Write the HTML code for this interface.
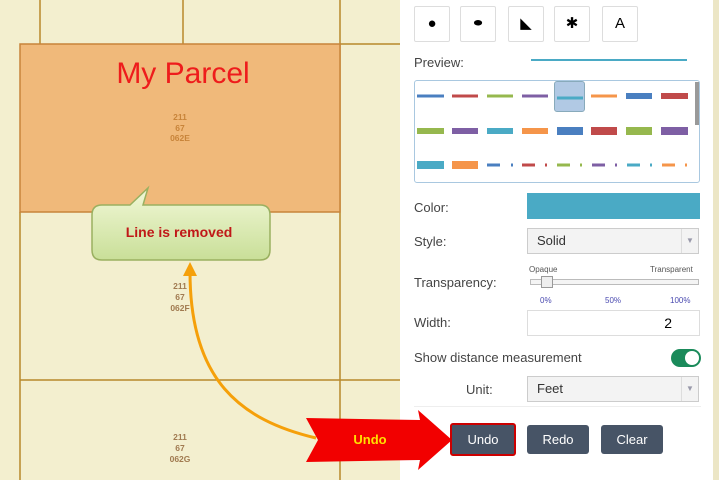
<!DOCTYPE html>
<html><head><style>
body{margin:0;width:719px;height:480px;overflow:hidden;font-family:"Liberation Sans",sans-serif;position:relative;background:#f3efcf}
.a{position:absolute}
.ib{position:absolute;top:6px;width:34px;height:34px;border:1px solid #ddd;border-radius:2px;background:#fff;text-align:center;line-height:34px;font-size:15px}
.lb{position:absolute;left:414px;font-size:13px;color:#444}
.sel{position:absolute;left:527px;width:172px;border:1px solid #ccc;background:#f3f3f3;font-size:13px;color:#333;box-sizing:border-box}
.btn{position:absolute;top:425px;height:29px;background:#475466;color:#fff;border-radius:3px;font-size:13px;text-align:center;line-height:29px}
</style></head><body>
<svg class="a" style="left:0;top:0" width="719" height="480">
<rect x="0" y="0" width="400" height="480" fill="#f3efcf"/>
<g stroke="#b8892a" stroke-width="1.5" fill="none">
<line x1="40" y1="0" x2="40" y2="44"/><line x1="183" y1="0" x2="183" y2="44"/>
<line x1="340" y1="0" x2="340" y2="480"/><line x1="340" y1="44" x2="400" y2="44"/>
<line x1="20" y1="212" x2="20" y2="480"/><line x1="20" y1="380" x2="400" y2="380"/>
</g>
<rect x="20" y="44" width="320" height="168" fill="#f0b97a" stroke="#c8843a" stroke-width="1.5"/>
<text x="183" y="83" font-size="30" fill="#ee1c1c" text-anchor="middle">My Parcel</text>
<g font-size="8.5" font-weight="bold" fill="#c8843a" text-anchor="middle"><text x="180" y="120">211</text><text x="180" y="131">67</text><text x="180" y="141">062E</text></g>
<g font-size="8.5" font-weight="bold" fill="#a07a50" text-anchor="middle"><text x="180" y="289">211</text><text x="180" y="300">67</text><text x="180" y="311">062F</text>
<text x="180" y="440">211</text><text x="180" y="451">67</text><text x="180" y="462">062G</text></g>
<path d="M316 438 C240 420 190 380 190 272" stroke="#f5a00a" stroke-width="3" fill="none"/>
<polygon points="190,262 183,276 197,276" fill="#f5a00a"/>
<defs><linearGradient id="g" x1="0" y1="0" x2="0" y2="1"><stop offset="0" stop-color="#f2f8d8"/><stop offset="1" stop-color="#c9df98"/></linearGradient></defs>
<path d="M102 205 L130 205 L148 188 L143 205 L260 205 Q270 205 270 215 L270 250 Q270 260 260 260 L102 260 Q92 260 92 250 L92 215 Q92 205 102 205Z" fill="url(#g)" stroke="#9ab060" stroke-width="1.5"/>
<text x="179" y="237" font-size="14" font-weight="bold" fill="#c01818" text-anchor="middle">Line is removed</text>
<rect x="400" y="0" width="313" height="480" fill="#fff"/>
<rect x="713" y="0" width="6" height="480" fill="#ece6c6"/>
<polygon points="306,418 420,420 418,410 452,440 418,470 420,460 306,462 318,440" fill="#f20000"/>
<text x="370" y="444" font-size="13" font-weight="bold" fill="#ffe000" text-anchor="middle">Undo</text>
</svg>
<div class="ib" style="left:414px">●</div>
<div class="ib" style="left:460px;font-size:10px">⬬</div>
<div class="ib" style="left:508px">◣</div>
<div class="ib" style="left:554px">✱</div>
<div class="ib" style="left:602px">A</div>
<div class="lb" style="top:55px">Preview:</div>
<div class="a" style="left:531px;top:59px;width:156px;height:2px;background:#4aaac5"></div>
<div class="a" style="left:414px;top:80px;width:286px;height:103px;border:1px solid #a9c8e0;border-radius:3px;box-sizing:border-box"></div>
<div class="a" style="left:695px;top:82px;width:4px;height:43px;background:#999"></div>
<div class="a" style="left:554px;top:81px;width:31px;height:31px;background:#b1c9e4;border:1px solid #8ab;border-radius:3px;box-sizing:border-box"></div>
<svg class="a" style="left:414px;top:80px" width="286" height="103">
<g stroke-width="3"><line x1="3" y1="16" x2="30" y2="16" stroke="#4a7fc0"/><line x1="38" y1="16" x2="64" y2="16" stroke="#c04a4a"/><line x1="73" y1="16" x2="99" y2="16" stroke="#96b84e"/><line x1="108" y1="16" x2="134" y2="16" stroke="#7e5fa4"/><line x1="143" y1="18" x2="169" y2="18" stroke="#4aaac5"/><line x1="177" y1="16" x2="203" y2="16" stroke="#f5954a"/></g>
<g stroke-width="6"><line x1="212" y1="16" x2="238" y2="16" stroke="#4a7fc0"/><line x1="247" y1="16" x2="274" y2="16" stroke="#c04a4a"/>
<line x1="3" y1="51" x2="30" y2="51" stroke="#96b84e"/><line x1="38" y1="51" x2="64" y2="51" stroke="#7e5fa4"/><line x1="73" y1="51" x2="99" y2="51" stroke="#4aaac5"/><line x1="108" y1="51" x2="134" y2="51" stroke="#f5954a"/></g>
<g stroke-width="8"><line x1="143" y1="51" x2="169" y2="51" stroke="#4a7fc0"/><line x1="177" y1="51" x2="203" y2="51" stroke="#c04a4a"/><line x1="212" y1="51" x2="238" y2="51" stroke="#96b84e"/><line x1="247" y1="51" x2="274" y2="51" stroke="#7e5fa4"/>
<line x1="3" y1="85" x2="30" y2="85" stroke="#4aaac5"/><line x1="38" y1="85" x2="64" y2="85" stroke="#f5954a"/></g>
<g stroke-width="3"><line x1="73" y1="85" x2="86" y2="85" stroke="#4a7fc0"/><line x1="108" y1="85" x2="121" y2="85" stroke="#c04a4a"/><line x1="143" y1="85" x2="156" y2="85" stroke="#96b84e"/><line x1="178" y1="85" x2="191" y2="85" stroke="#7e5fa4"/><line x1="213" y1="85" x2="226" y2="85" stroke="#4aaac5"/><line x1="248" y1="85" x2="261" y2="85" stroke="#f5954a"/>
<line x1="97" y1="85" x2="99" y2="85" stroke="#4a7fc0"/><line x1="131" y1="85" x2="133" y2="85" stroke="#c04a4a"/><line x1="166" y1="85" x2="168" y2="85" stroke="#96b84e"/><line x1="201" y1="85" x2="203" y2="85" stroke="#7e5fa4"/><line x1="236" y1="85" x2="238" y2="85" stroke="#4aaac5"/><line x1="271" y1="85" x2="273" y2="85" stroke="#f5954a"/></g>
</svg>
<div class="lb" style="top:200px">Color:</div>
<div class="a" style="left:527px;top:193px;width:173px;height:26px;background:#4aaac5"></div>
<div class="lb" style="top:234px">Style:</div>
<div class="sel" style="top:228px;height:26px;line-height:24px;padding-left:9px">Solid<span style="position:absolute;right:0;top:0;width:16px;height:24px;border-left:1px solid #ddd;font-size:8px;color:#99a;text-align:center">▼</span></div>
<div class="lb" style="top:275px">Transparency:</div>
<div class="a" style="left:529px;top:265px;font-size:8px;color:#555">Opaque</div>
<div class="a" style="left:650px;top:265px;font-size:8px;color:#555">Transparent</div>
<div class="a" style="left:530px;top:279px;width:167px;height:4px;border:1px solid #bbb;background:#f4f4f4"></div>
<div class="a" style="left:541px;top:276px;width:10px;height:10px;border:1px solid #999;background:#eee"></div>
<div class="a" style="left:540px;top:296px;font-size:8px;color:#4a4ab0">0%</div>
<div class="a" style="left:605px;top:296px;font-size:8px;color:#4a4ab0">50%</div>
<div class="a" style="left:670px;top:296px;font-size:8px;color:#4a4ab0">100%</div>
<div class="lb" style="top:315px">Width:</div>
<div class="a" style="left:527px;top:310px;width:173px;height:26px;border:1px solid #ddd;box-sizing:border-box;font-size:14px;text-align:right;padding-right:27px;line-height:24px">2</div>
<div class="lb" style="top:350px">Show distance measurement</div>
<div class="a" style="left:671px;top:349px;width:30px;height:18px;border-radius:9px;background:#1a8a5a"><div style="position:absolute;right:2px;top:2px;width:14px;height:14px;border-radius:7px;background:#fff"></div></div>
<div class="lb" style="top:382px;left:466px">Unit:</div>
<div class="sel" style="top:376px;height:26px;line-height:24px;padding-left:9px">Feet<span style="position:absolute;right:0;top:0;width:16px;height:24px;border-left:1px solid #ddd;font-size:8px;color:#99a;text-align:center">▼</span></div>
<div class="a" style="left:414px;top:406px;width:287px;height:1px;background:#eee"></div>
<div class="btn" style="left:450px;top:423px;width:62px;height:29px;border:2px solid #c00">Undo</div>
<div class="btn" style="left:527px;width:62px">Redo</div>
<div class="btn" style="left:601px;width:62px">Clear</div>
</body></html>
